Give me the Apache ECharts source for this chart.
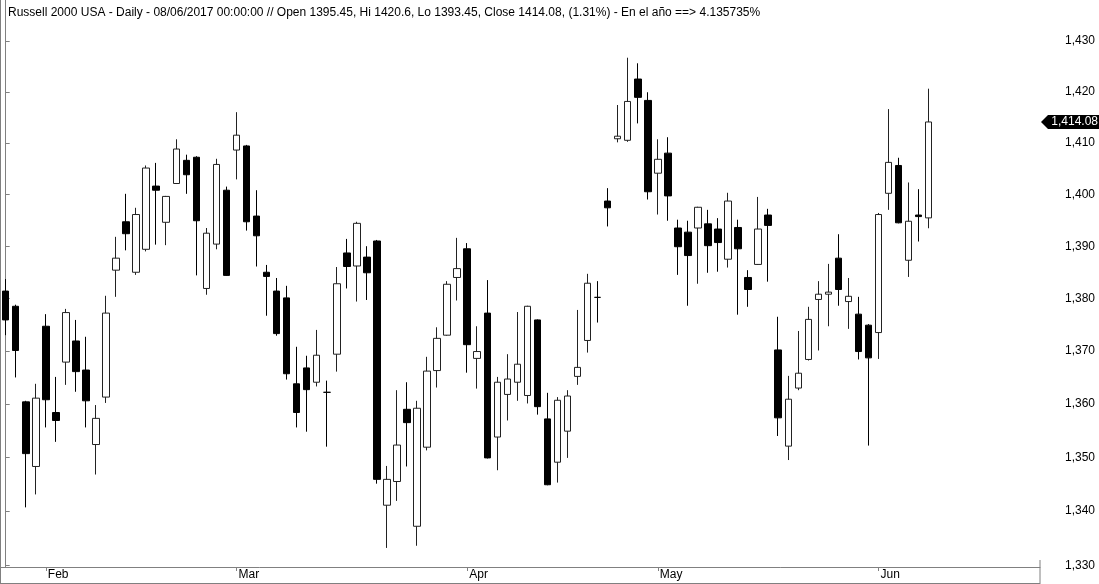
<!DOCTYPE html>
<html><head><meta charset="utf-8">
<script src="https://cdn.jsdelivr.net/npm/echarts@6/dist/echarts.min.js"></script>
<style>html,body{margin:0;padding:0;background:#fff}#c{width:1099px;height:584px}</style>
</head><body><div id="c"></div>
<script>
const dates = [
'2017-01-26','2017-01-27','2017-01-30','2017-01-31',
'2017-02-01','2017-02-02','2017-02-03','2017-02-06','2017-02-07','2017-02-08','2017-02-09','2017-02-10','2017-02-13','2017-02-14','2017-02-15','2017-02-16','2017-02-17','2017-02-21','2017-02-22','2017-02-23','2017-02-24','2017-02-27','2017-02-28',
'2017-03-01','2017-03-02','2017-03-03','2017-03-06','2017-03-07','2017-03-08','2017-03-09','2017-03-10','2017-03-13','2017-03-14','2017-03-15','2017-03-16','2017-03-17','2017-03-20','2017-03-21','2017-03-22','2017-03-23','2017-03-24','2017-03-27','2017-03-28','2017-03-29','2017-03-30','2017-03-31',
'2017-04-03','2017-04-04','2017-04-05','2017-04-06','2017-04-07','2017-04-10','2017-04-11','2017-04-12','2017-04-13','2017-04-17','2017-04-18','2017-04-19','2017-04-20','2017-04-21','2017-04-24','2017-04-25','2017-04-26','2017-04-27','2017-04-28',
'2017-05-01','2017-05-02','2017-05-03','2017-05-04','2017-05-05','2017-05-08','2017-05-09','2017-05-10','2017-05-11','2017-05-12','2017-05-15','2017-05-16','2017-05-17','2017-05-18','2017-05-19','2017-05-22','2017-05-23','2017-05-24','2017-05-25','2017-05-26','2017-05-30','2017-05-31',
'2017-06-01','2017-06-02','2017-06-05','2017-06-06','2017-06-07','2017-06-08'
];
const openV = [1381.4,1378.5,1360.4,1348.3,1374.7,1358.4,1367.9,1371.9,1366.4,1352.4,1361.3,1385.4,1394.7,1385.0,1389.4,1401.6,1394.6,1402.1,1406.6,1407.2,1381.9,1390.4,1400.8,
1408.6,1409.4,1395.8,1385.0,1381.4,1380.1,1363.8,1366.8,1364.1,1362.2,1369.4,1388.7,1386.2,1387.9,1391.0,1341.1,1345.5,1359.0,1337.2,1351.9,1366.3,1373.0,1384.0,
1389.5,1368.6,1377.2,1353.8,1361.8,1364.1,1361.6,1375.9,1357.2,1349.1,1354.9,1365.2,1372.0,1380.2,1398.7,1410.8,1410.5,1422.5,1418.3,
1404.1,1408.0,1393.5,1392.7,1393.5,1394.3,1393.3,1387.5,1393.6,1384.0,1386.5,1396.0,1370.2,1352.1,1363.0,1368.4,1379.8,1380.8,1387.7,1379.4,1377.0,1374.9,
1373.5,1400.2,1405.6,1387.3,1396.0,1395.45];
const highV = [1383.7,1378.8,1360.6,1363.8,1377.0,1365.1,1378.0,1375.9,1372.7,1359.8,1380.5,1391.8,1400.1,1397.4,1405.6,1406.1,1399.7,1410.7,1407.7,1407.4,1393.5,1406.9,1401.5,
1416.0,1409.6,1400.8,1386.4,1383.9,1382.4,1370.8,1369.1,1374.0,1364.4,1386.0,1391.4,1394.7,1390.0,1391.2,1348.4,1362.6,1364.1,1360.6,1368.9,1374.5,1383.3,1391.6,
1390.6,1374.7,1383.5,1365.1,1369.4,1377.4,1378.6,1376.0,1362.1,1361.3,1362.6,1377.8,1384.7,1383.3,1401.2,1417.4,1426.7,1425.6,1419.9,
1410.7,1411.1,1395.1,1394.9,1397.6,1397.0,1395.4,1400.3,1395.1,1385.4,1399.5,1397.2,1376.5,1365.3,1373.8,1378.4,1383.3,1386.6,1392.3,1383.9,1380.3,1375.1,
1396.4,1416.6,1407.1,1402.3,1401.0,1420.6];
const lowV = [1373.0,1365.0,1340.7,1343.1,1355.6,1352.9,1363.6,1362.3,1355.6,1346.8,1360.2,1380.3,1389.2,1384.5,1389.0,1390.3,1390.2,1402.0,1400.1,1384.4,1380.7,1389.4,1384.3,
1402.9,1393.0,1386.1,1376.7,1372.9,1364.6,1355.6,1354.8,1363.3,1352.0,1366.1,1381.9,1379.4,1379.7,1345.1,1333.2,1341.9,1348.3,1333.6,1351.3,1363.1,1372.9,1379.6,
1365.9,1362.9,1349.8,1347.6,1356.9,1360.6,1360.1,1358.0,1344.8,1345.3,1349.9,1363.6,1369.7,1375.4,1393.8,1410.1,1410.2,1413.8,1399.0,
1396.1,1394.9,1384.5,1378.6,1382.8,1384.9,1385.1,1385.9,1376.9,1378.4,1386.4,1383.2,1354.0,1349.5,1362.6,1368.2,1370.1,1374.7,1378.6,1374.2,1368.4,1352.2,
1368.5,1397.0,1394.4,1384.1,1390.9,1393.45];
const closeV = [1375.9,1370.1,1350.7,1361.1,1360.8,1356.9,1377.3,1366.1,1360.6,1357.3,1377.2,1387.7,1392.4,1396.1,1405.1,1400.8,1399.6,1408.8,1403.8,1394.9,1392.5,1405.8,1384.4,
1411.5,1394.7,1392.0,1384.2,1373.3,1365.7,1358.4,1362.7,1369.2,1362.2,1382.8,1386.1,1394.4,1384.9,1345.9,1345.9,1352.3,1356.5,1359.2,1366.2,1372.4,1382.7,1385.7,
1371.2,1369.9,1349.9,1364.1,1364.7,1367.5,1378.5,1359.5,1344.9,1360.7,1361.5,1366.9,1382.9,1380.2,1397.4,1411.3,1418.1,1418.9,1400.5,
1406.8,1399.7,1389.9,1388.2,1397.5,1390.1,1390.7,1398.7,1389.5,1381.7,1393.3,1394.0,1357.4,1360.9,1365.8,1376.0,1380.8,1381.2,1381.7,1380.4,1369.9,1368.7,
1396.1,1406.2,1394.5,1394.8,1395.7,1414.08];
const yTicks = [1330,1340,1350,1360,1370,1380,1390,1400,1410,1420,1430];
const monthNames = ['Jan','Feb','Mar','Apr','May','Jun','Jul','Aug','Sep','Oct','Nov','Dec'];
const titleText = 'Russell 2000 USA - Daily - 08/06/2017 00:00:00 // Open 1395.45, Hi 1420.6, Lo 1393.45, Close 1414.08, (1.31%) - En el año ==> 4.135735%';

const FONT = '"Liberation Sans", Arial, sans-serif';
const L = Math.log;
const monthStarts = [];
dates.forEach((d, i) => { if (i > 0 && d.slice(5, 7) !== dates[i - 1].slice(5, 7)) monthStarts.push(i); });
const candleData = dates.map((d, i) => [i, L(openV[i]), L(closeV[i]), L(lowV[i]), L(highV[i])]);
const lastPrice = closeV[closeV.length - 1];

const chart = echarts.init(document.getElementById('c'), null, { renderer: 'canvas' });
chart.setOption({
  animation: false,
  backgroundColor: '#fff',
  title: {
    text: titleText, left: 3, top: 2,
    textStyle: { fontSize: 12, fontWeight: 'normal', color: '#000', fontFamily: FONT }
  },
  grid: { left: 0, right: 59, top: 0, bottom: 17, containLabel: false },
  xAxis: {
    type: 'value', min: -0.568, max: 103.09,
    axisLine: { show: true, lineStyle: { color: '#808080', width: 1 } },
    axisTick: { show: true, customValues: monthStarts, length: 4, lineStyle: { color: '#808080' } },
    axisLabel: {
      show: true, customValues: monthStarts, align: 'left', margin: 2, padding: [0, 0, 0, 2],
      fontSize: 12, color: '#000', fontFamily: FONT,
      formatter: v => monthNames[parseInt(dates[Math.round(v)].slice(5, 7), 10) - 1]
    },
    splitLine: { show: false }
  },
  yAxis: {
    type: 'value', position: 'right', min: L(1329.69), max: L(1438.13), scale: true,
    axisLine: { show: true, lineStyle: { color: '#808080', width: 1 } },
    axisTick: { show: true, customValues: yTicks.map(L), length: 4, lineStyle: { color: '#808080' } },
    axisLabel: {
      show: true, customValues: yTicks.map(L), align: 'right', margin: 55,
      fontSize: 12, color: '#000', fontFamily: FONT,
      formatter: v => Math.round(Math.exp(v)).toLocaleString('en-US')
    },
    splitLine: { show: false }
  },
  series: [{
    type: 'candlestick',
    data: candleData,
    encode: { x: 0, y: [1, 2, 3, 4] },
    barWidth: 7,
    itemStyle: {
      color: '#fff', color0: '#000',
      borderColor: '#222', borderColor0: '#000', borderColorDoji: '#000',
      borderWidth: 1
    }
  }]
});

const py = chart.convertToPixel({ yAxisIndex: 0 }, L(lastPrice));
const xr = chart.convertToPixel({ xAxisIndex: 0 }, 103.09);
chart.setOption({
  graphic: [
    { type: 'line', shape: { x1: 0.5, y1: 0, x2: 0.5, y2: 584 }, style: { stroke: '#808080', lineWidth: 1 }, z: 10 },
    { type: 'line', shape: { x1: 0, y1: 583.5, x2: xr, y2: 583.5 }, style: { stroke: '#808080', lineWidth: 1 }, z: 10 },
    { type: 'line', shape: { x1: xr, y1: 560, x2: xr, y2: 584 }, style: { stroke: '#808080', lineWidth: 1 }, z: 10 },
    { type: 'polygon', shape: { points: [[xr + 1, py], [xr + 8, py - 7], [1099, py - 7], [1099, py + 7], [xr + 8, py + 7]] },
      style: { fill: '#000' }, z: 20 },
    { type: 'text', x: 1098, y: py, style: { text: lastPrice.toLocaleString('en-US', { minimumFractionDigits: 2 }),
      fill: '#fff', fontSize: 12, fontFamily: FONT, align: 'right', verticalAlign: 'middle' }, z: 21 }
  ]
});
</script>
</body></html>
